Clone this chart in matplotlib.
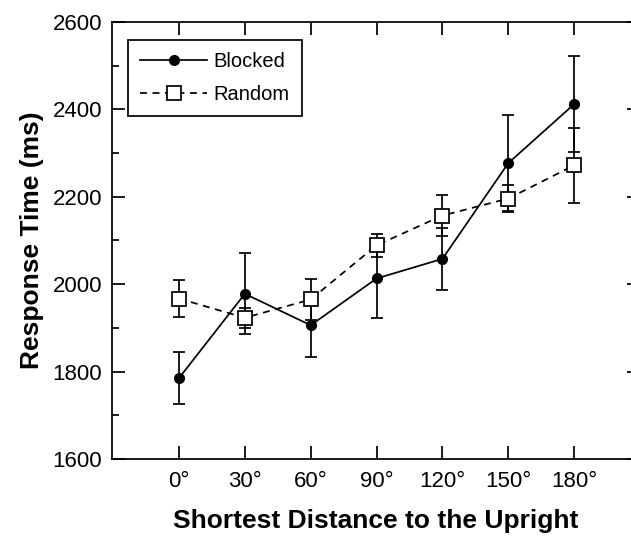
import numpy as np
import matplotlib
matplotlib.use('Agg')
import matplotlib.pyplot as plt
from matplotlib.ticker import MultipleLocator
from matplotlib.lines import Line2D

plt.rcParams['font.family'] = ['Liberation Sans', 'DejaVu Sans']

angles = [0, 30, 60, 90, 120, 150, 180]
angle_labels = ['0°', '30°', '60°', '90°', '120°', '150°', '180°']

blocked = [1785, 1978, 1906, 2013, 2058, 2277, 2412]
blocked_err = [60, 93, 73, 90, 71, 109, 110]

random_rt = [1967, 1923, 1965, 2089, 2157, 2196, 2272]
random_err = [42, 23, 47, 26, 47, 31, 86]

fig = plt.figure(figsize=(6.31, 5.36), dpi=100)
# axes runs a bit past the right edge of the figure, like the original
ax = fig.add_axes([0.1775, 0.1437, 0.8368, 0.8153])

lw = 1.25
dash = (4, 3.2)
ax.errorbar(angles, blocked, yerr=blocked_err, fmt='-o', color='black',
            lw=lw, elinewidth=lw, capsize=4, capthick=lw,
            markersize=7, markerfacecolor='black', zorder=3)
ax.errorbar(angles, random_rt, yerr=random_err, fmt='--s', color='black',
            lw=lw, elinewidth=lw, capsize=4, capthick=lw, dashes=dash,
            markersize=9.5, markerfacecolor='white', markeredgewidth=lw,
            zorder=4)

ax.set_xlim(-30.5, 210)
ax.set_ylim(1600, 2600)
ax.set_xticks(angles)
ax.set_xticklabels(angle_labels)
ax.yaxis.set_major_locator(MultipleLocator(200))
ax.yaxis.set_minor_locator(MultipleLocator(100))

ax.tick_params(which='both', direction='in', top=True, right=True,
               width=lw, labelsize=16)
ax.tick_params(axis='x', pad=9)
ax.tick_params(axis='y', pad=7)
ax.tick_params(which='major', length=9.5)
ax.tick_params(which='minor', length=5)
for s in ax.spines.values():
    s.set_linewidth(lw)

ax.set_xlabel('Shortest Distance to the Upright', fontsize=19,
              fontweight='bold', labelpad=12)
ax.set_ylabel('Response Time (ms)', fontsize=19, fontweight='bold',
              labelpad=6)

handles = [
    Line2D([], [], color='black', lw=lw, marker='o', markersize=7,
           markerfacecolor='black'),
    Line2D([], [], color='black', lw=lw, ls='--', dashes=dash, marker='s',
           markersize=9.5, markerfacecolor='white', markeredgewidth=lw),
]
leg = ax.legend(handles, ['Blocked', 'Random'], loc='upper left',
                bbox_to_anchor=(0.03, 0.959), borderaxespad=0, fontsize=14.5,
                handlelength=3.35, handletextpad=0.3, labelspacing=0.7,
                borderpad=0.6, fancybox=False, framealpha=1)
leg.get_frame().set_edgecolor('black')
leg.get_frame().set_linewidth(lw)

fig.savefig('out.png', dpi=100)
